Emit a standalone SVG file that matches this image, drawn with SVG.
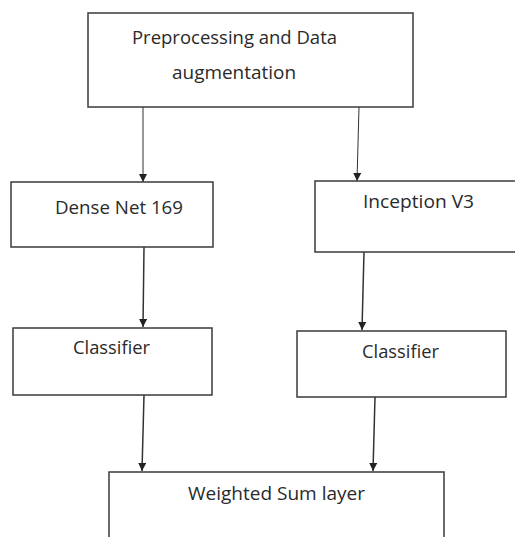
<svg xmlns="http://www.w3.org/2000/svg" width="515" height="537" viewBox="0 0 515 537">
  <style>
    .box { fill: #ffffff; stroke: #3a3a3a; stroke-width: 1.5; }
    .lbl { font-family: "Open Sans", "Liberation Sans", sans-serif; font-size: 18px; fill: #2a2a2a; }
    .edge { stroke: #333333; stroke-width: 1.5; fill: none; }
    .thin { stroke-width: 1; }
  </style>
  <defs>
    <marker id="arrow" viewBox="0 0 10 10" refX="10" refY="5" markerWidth="8" markerHeight="8" markerUnits="userSpaceOnUse" orient="auto">
      <path d="M0,0 L10,5 L0,10 Z" fill="#222222"/>
    </marker>
  </defs>
  <rect width="515" height="537" fill="#ffffff"/>

  <g id="connectors">
    <line class="edge thin" x1="143" y1="107" x2="143" y2="182" marker-end="url(#arrow)"/>
    <line class="edge thin" x1="359" y1="107" x2="357" y2="181" marker-end="url(#arrow)"/>
    <line class="edge" x1="144" y1="247" x2="143" y2="327" marker-end="url(#arrow)"/>
    <line class="edge" x1="364" y1="252" x2="362" y2="330" marker-end="url(#arrow)"/>
    <line class="edge" x1="144" y1="395" x2="142" y2="471" marker-end="url(#arrow)"/>
    <line class="edge" x1="375" y1="397" x2="373" y2="471" marker-end="url(#arrow)"/>
  </g>

  <g id="preprocessing">
    <rect class="box" x="88" y="13" width="325" height="94"/>
    <text class="lbl" x="132" y="44" textLength="205" lengthAdjust="spacingAndGlyphs">Preprocessing and Data</text>
    <text class="lbl" x="172" y="79" textLength="124" lengthAdjust="spacingAndGlyphs">augmentation</text>
  </g>

  <g id="densenet">
    <rect class="box" x="11" y="182" width="202" height="65"/>
    <text class="lbl" x="55" y="214" textLength="128" lengthAdjust="spacingAndGlyphs">Dense Net 169</text>
  </g>

  <g id="inception">
    <rect class="box" x="315" y="181" width="210" height="71"/>
    <text class="lbl" x="363" y="208" textLength="111" lengthAdjust="spacingAndGlyphs">Inception V3</text>
  </g>

  <g id="classifier-left">
    <rect class="box" x="13" y="328" width="199" height="67"/>
    <text class="lbl" x="73" y="354" textLength="77" lengthAdjust="spacingAndGlyphs">Classifier</text>
  </g>

  <g id="classifier-right">
    <rect class="box" x="297" y="331" width="209" height="66"/>
    <text class="lbl" x="362" y="358" textLength="77" lengthAdjust="spacingAndGlyphs">Classifier</text>
  </g>

  <g id="weighted-sum">
    <rect class="box" x="109" y="472" width="335" height="80"/>
    <text class="lbl" x="188" y="500" textLength="177" lengthAdjust="spacingAndGlyphs">Weighted Sum layer</text>
  </g>
</svg>
